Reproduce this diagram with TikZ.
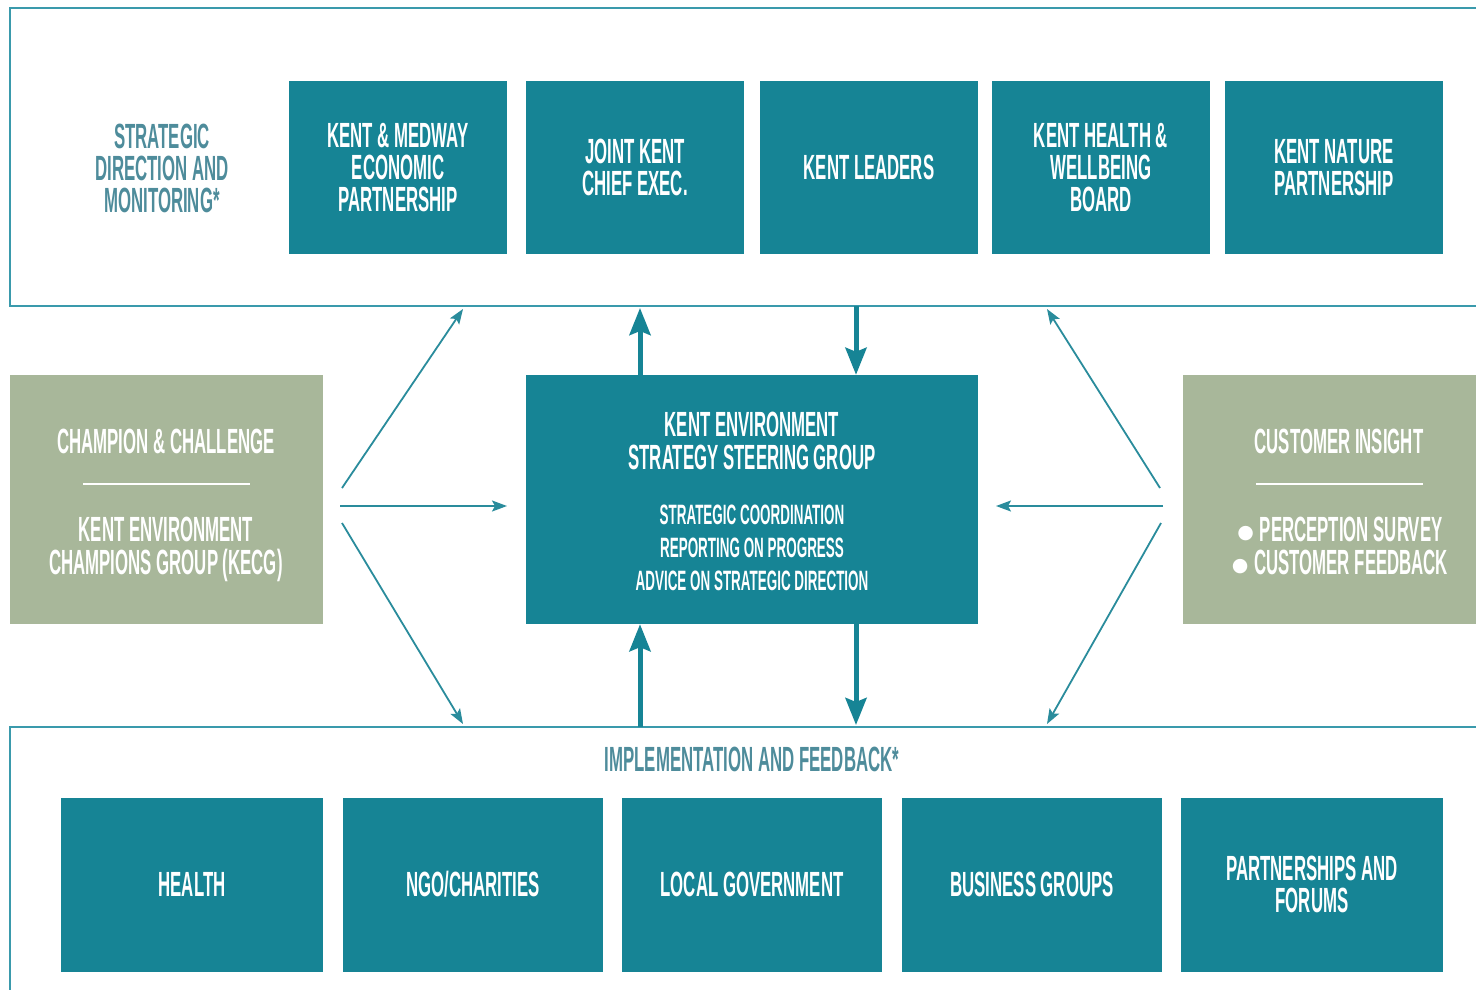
\documentclass[tikz,border=0pt]{standalone}
\usepackage{fontspec}
\newfontfamily\bebas{Liberation Sans}[FakeStretch=0.48]
\newfontfamily\dejavu{DejaVu Sans}
\usetikzlibrary{arrows.meta}
\definecolor{teal1}{HTML}{168495}
\definecolor{sage}{HTML}{A8B79A}
\definecolor{framec}{HTML}{3A9AAC}
\definecolor{arrowc}{HTML}{2A8C9C}
\definecolor{labelc}{HTML}{4E8C9B}
\begin{document}
\begin{tikzpicture}[x=1pt,y=-1pt,
  tbox/.style={fill=teal1,inner sep=0,minimum width=218pt,minimum height=173pt,text=white,align=center,font=\bebas\bfseries\fontsize{35}{32}\selectfont},
  sagebox/.style={fill=sage,inner sep=0,minimum height=249pt},
  wtxt/.style={text=white,align=center,inner sep=0,anchor=base,font=\bebas\bfseries\fontsize{35}{33}\selectfont},
  stxt/.style={text=white,align=center,inner sep=0,anchor=base,font=\bebas\bfseries\fontsize{28}{33}\selectfont},
  ltxt/.style={text=labelc,align=center,inner sep=0,font=\bebas\bfseries\fontsize{35}{32}\selectfont},
  framebox/.style={draw=framec,line width=1.8pt},
  sepline/.style={draw=white,line width=1.6pt},
  thinarrow/.style={draw=arrowc,line width=1.8pt,-{Stealth[length=15pt,width=11pt,inset=3pt]}},
  thickarrow/.style={draw=teal1,line width=5pt,-{Stealth[length=27pt,width=21pt,inset=4pt]}}]
\useasboundingbox (0,0) rectangle (1476,989);
\fill[white] (0,0) rectangle (1476,989);
\clip (0,0) rectangle (1476,989);

% frames
\draw[framebox] (10,8) rectangle (1500,306);
\draw[framebox] (10,727) rectangle (1500,1020);

% top row
\node[ltxt] (sdm) at (162,168) {STRATEGIC\\DIRECTION AND\\MONITORING*};
\node[tbox] (kmep) at (398,167.5) {KENT \& MEDWAY\\ECONOMIC\\PARTNERSHIP};
\node[tbox] (jkce) at (635,167.5) {JOINT KENT\\CHIEF EXEC.};
\node[tbox] (kl) at (869,167.5) {KENT LEADERS};
\node[tbox] (khwb) at (1101,167.5) {KENT HEALTH \&\\WELLBEING\\BOARD};
\node[tbox] (knp) at (1334,167.5) {KENT NATURE\\PARTNERSHIP};

% middle row
\node[sagebox,minimum width=313pt] (cc) at (166.5,499.5) {};
\node[wtxt] (cct1) at (166,453) {CHAMPION \& CHALLENGE};
\draw[sepline] (83,484) -- (250,484);
\node[wtxt] (cct2) at (166,574) {KENT ENVIRONMENT\\CHAMPIONS GROUP (KECG)};

\node[fill=teal1,inner sep=0,minimum width=452pt,minimum height=249pt] (ksg) at (752,499.5) {};
\node[wtxt] (ksgt) at (752,469) {KENT ENVIRONMENT\\STRATEGY STEERING GROUP};
\node[stxt] (ksgs) at (752,590) {STRATEGIC COORDINATION\\REPORTING ON PROGRESS\\ADVICE ON STRATEGIC DIRECTION};

\node[sagebox,minimum width=310pt] (ci) at (1338,499.5) {};
\node[wtxt] (cit1) at (1339,453) {CUSTOMER INSIGHT};
\draw[sepline] (1256,484) -- (1423,484);
\node[wtxt] (cit2) at (1340,574) {{\dejavu\fontsize{19}{19}\selectfont\raisebox{3pt}{●}}\,PERCEPTION SURVEY\\{\dejavu\fontsize{19}{19}\selectfont\raisebox{3pt}{●}}\,CUSTOMER FEEDBACK};

% bottom
\node[ltxt] (imp) at (752,759) {IMPLEMENTATION AND FEEDBACK*};
\node[tbox,minimum width=262pt,minimum height=174pt] (hl) at (192,884.5) {HEALTH};
\node[tbox,minimum width=260pt,minimum height=174pt] (ngo) at (473,884.5) {NGO/CHARITIES};
\node[tbox,minimum width=260pt,minimum height=174pt] (lg) at (752,884.5) {LOCAL GOVERNMENT};
\node[tbox,minimum width=260pt,minimum height=174pt] (bg) at (1032,884.5) {BUSINESS GROUPS};
\node[tbox,minimum width=262pt,minimum height=174pt] (pf) at (1312,884.5) {PARTNERSHIPS AND\\FORUMS};

% connector end points
\coordinate (l1s) at (342,488);
\coordinate (l1e) at (463,309);
\coordinate (l2s) at (340,506);
\coordinate (l2e) at (507,506);
\coordinate (l3s) at (342,523);
\coordinate (l3e) at (463,724);
\coordinate (r1s) at (1160,488);
\coordinate (r1e) at (1047,309);
\coordinate (r2s) at (1163,506);
\coordinate (r2e) at (996,506);
\coordinate (r3s) at (1161,523);
\coordinate (r3e) at (1047,724);
\coordinate (tu) at (640,308);
\coordinate (td) at (856,306);
\coordinate (bu) at (640,727);
\coordinate (bd) at (856,725);

\draw[thinarrow] (l1s) -- (l1e);
\draw[thinarrow] (l2s) -- (l2e);
\draw[thinarrow] (l3s) -- (l3e);
\draw[thinarrow] (r1s) -- (r1e);
\draw[thinarrow] (r2s) -- (r2e);
\draw[thinarrow] (r3s) -- (r3e);

\draw[thickarrow] (ksg.north -| tu) -- (tu);
\draw[thickarrow] (td) -- (ksg.north -| td);
\draw[thickarrow] (bu) -- (ksg.south -| bu);
\draw[thickarrow] (ksg.south -| bd) -- (bd);
\end{tikzpicture}
\end{document}
